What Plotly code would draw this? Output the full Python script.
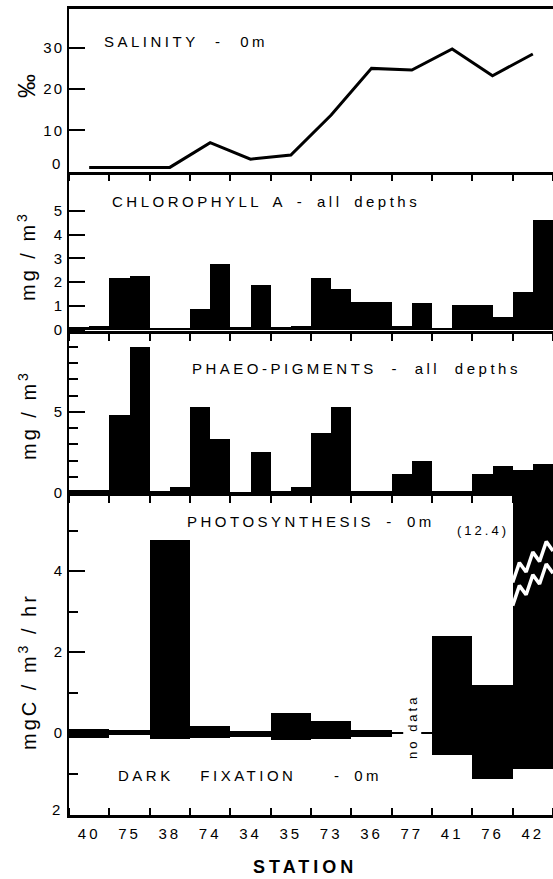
import numpy as np
import plotly.graph_objects as go

# ---------------- data ----------------
stations = ["40", "75", "38", "74", "34", "35", "73", "36", "77", "41", "76", "42"]
salinity = [1.0, 1.0, 1.0, 7.0, 3.0, 4.0, 13.7, 25.0, 24.6, 29.7, 23.2, 28.5]
# each station shows two adjacent columns (left half / right half of its slot)
chl_left = [0.15, 2.2, 0.1, 0.9, 0.15, 0.15, 2.2, 1.2, 0.2, 0.1, 1.05, 1.6]
chl_right = [0.2, 2.3, 0.1, 2.8, 1.9, 0.2, 1.75, 1.2, 1.15, 1.05, 0.55, 4.65]
phaeo_left = [0.2, 4.8, 0.15, 5.3, 0.05, 0.1, 3.7, 0.1, 1.2, 0.15, 1.2, 1.4]
phaeo_right = [0.2, 9.0, 0.4, 3.3, 2.5, 0.4, 5.3, 0.1, 1.95, 0.15, 1.65, 1.8]
photosynthesis = [0.1, 0.07, 4.77, 0.17, 0.05, 0.49, 0.3, 0.07, None, 2.4, 1.18, 12.4]
dark_fixation = [0.12, 0.03, 0.15, 0.13, 0.10, 0.17, 0.15, 0.10, None, 0.54, 1.14, 0.89]

FONT = "Liberation Sans, Arial, Helvetica, sans-serif"


def sp(text, ls=3.5, ws=None):
    style = f"letter-spacing:{ls}px"
    if ws is not None:
        style += f";word-spacing:{ws}px"
    return f"<span style='{style}'>{text}</span>"


idx = np.arange(len(stations))
half_x = np.concatenate([idx + 0.25, idx + 0.75])
chl = list(chl_left) + list(chl_right)
phaeo = list(phaeo_left) + list(phaeo_right)
dark_neg = [None if v is None else -v for v in dark_fixation]

fig = go.Figure()
fig.add_trace(go.Scatter(x=idx + 0.5, y=salinity, mode="lines",
                         line=dict(color="black", width=3), xaxis="x", yaxis="y",
                         showlegend=False))
fig.add_trace(go.Bar(x=half_x, y=chl, width=0.5, marker=dict(color="black", line=dict(width=0)),
                     xaxis="x2", yaxis="y2", showlegend=False))
fig.add_trace(go.Bar(x=half_x, y=phaeo, width=0.5, marker=dict(color="black", line=dict(width=0)),
                     xaxis="x3", yaxis="y3", showlegend=False))
fig.add_trace(go.Bar(x=idx + 0.5, y=photosynthesis, width=1.0,
                     marker=dict(color="black", line=dict(width=0)),
                     xaxis="x4", yaxis="y4", showlegend=False))
fig.add_trace(go.Bar(x=idx + 0.5, y=dark_neg, width=1.0,
                     marker=dict(color="black", line=dict(width=0)),
                     xaxis="x4", yaxis="y4", showlegend=False))

# axis-break zigzags on the off-scale bar (station 42)
brk_i = stations.index("42")
zx, zy = [], []
for (ya, yb) in [(3.72, 4.50), (3.15, 3.95)]:
    n = 6
    for k in range(n + 1):
        t = k / n
        zx.append(brk_i + t)
        zy.append(ya + (yb - ya) * t + (0.36 if k % 2 else 0.0))
    zx.append(None)
    zy.append(None)
fig.add_trace(go.Scatter(x=zx, y=zy, mode="lines", line=dict(color="white", width=3.5),
                         xaxis="x4", yaxis="y4", showlegend=False, hoverinfo="skip"))

tick_font = dict(family=FONT, size=15, color="black")
xticktext = [sp(s, 3) for s in stations]


def xaxis(anchor, bottom=False, mirror=False):
    d = dict(anchor=anchor, domain=[0, 1], range=[0, 12], showgrid=False, zeroline=False,
             showline=True, linecolor="black", linewidth=2.5, mirror=mirror,
             tickmode="array", tickvals=list(idx + 0.5), ticktext=xticktext, ticks="",
             showticklabels=bottom, tickfont=tick_font,
             minor=dict(tickmode="linear", tick0=0, dtick=1,
                        ticks="inside" if bottom else "outside",
                        ticklen=7, tickwidth=2, tickcolor="black", showgrid=False))
    if bottom:
        d["ticklabelstandoff"] = 3
    return d


def yaxis(domain, rng, tickvals, ticktext, anchor, minor_vals=None, **kw):
    d = dict(domain=domain, range=rng, anchor=anchor, showgrid=False,
             zeroline=False, showline=True, linecolor="black", linewidth=2,
             tickmode="array", tickvals=tickvals, ticktext=[sp(t, 2) for t in ticktext],
             ticks="inside", ticklen=16, tickwidth=2, tickcolor="black", tickfont=tick_font)
    if minor_vals:
        d["minor"] = dict(tickmode="array", tickvals=minor_vals, ticks="inside",
                          ticklen=9, tickwidth=2, tickcolor="black", showgrid=False)
    d.update(kw)
    return d


H = 879
TOP, BOT = 9, 815


def frac(px):
    return (BOT - px) / (BOT - TOP)


b1, b2, b3 = 171.5, 331, 493

fig.update_layout(
    width=553, height=879,
    margin=dict(l=69, r=0, t=TOP, b=H - BOT),
    paper_bgcolor="white", plot_bgcolor="white",
    barmode="relative", bargap=0,
    font=dict(family=FONT, color="black"),
    showlegend=False,
    xaxis=xaxis("y", mirror=True),
    xaxis2=xaxis("y2"),
    xaxis3=xaxis("y3"),
    xaxis4=xaxis("y4", bottom=True),
    yaxis=yaxis([frac(b1), 1], [0, 39.4], [10, 20, 30], ["10", "20", "30"], "x"),
    yaxis2=yaxis([frac(b2), frac(b1)], [-0.05, 6.65], [0, 1, 2, 3, 4, 5],
                 ["0", "1", "2", "3", "4", "5"], "x2"),
    yaxis3=yaxis([frac(b3), frac(b2)], [0, 9.97], [0, 5], ["0", "5"], "x3",
                 minor_vals=[1, 2, 3, 4, 6, 7, 8, 9]),
    yaxis4=yaxis([0, frac(b3)], [-2.02, 5.93], [0, 2, 4], ["0", "2", "4"], "x4",
                 minor_vals=[-1, 1, 3, 5],
                 zeroline=True, zerolinecolor="black", zerolinewidth=1.5),
)

ann = []
label_font = dict(family=FONT, size=15, color="black")
# panel labels
panel_labels = [
    ("SALINITY - 0m", 102, 41, 3.5, 9),
    ("CHLOROPHYLL A - all depths", 110, 201, 3.5, 4),
    ("PHAEO-PIGMENTS - all depths", 190, 368, 3.5, 7),
    ("PHOTOSYNTHESIS - 0m", 185, 521, 3.5, 4.5),
]
for text, xl, yc, ls, ws in panel_labels:
    ann.append(dict(text=sp(text, ls, ws), xref="paper", yref="paper",
                    x=(xl - 69) / 484, y=frac(yc), xanchor="left", yanchor="middle",
                    showarrow=False, font=label_font))
ann.append(dict(text=sp("DARK FIXATION", 3.5, 19) + sp(" -", 3.5, 30) + sp(" 0m", 3.5, 4),
                xref="paper", yref="paper", x=(116 - 69) / 484, y=frac(775),
                xanchor="left", yanchor="middle", showarrow=False, font=label_font))

# y-axis titles
ytitle_font = dict(family=FONT, size=20, color="black")
for text, yc, ls, size in [("‰", 86, 0, 24), ("mg / m<sup>3</sup>", 256, 3, 20),
                           ("mg / m<sup>3</sup>", 415, 3, 20),
                           ("mgC / m<sup>3</sup> / hr", 672, 3, 20)]:
    ann.append(dict(text=sp(text, ls), xref="paper", yref="paper", x=0, xshift=-42,
                    y=frac(yc), xanchor="center", yanchor="middle", textangle=-90,
                    showarrow=False, font=dict(family=FONT, size=size, color="black")))

# lifted zero / lower labels
ann.append(dict(text=sp("0", 2), xref="paper", yref="y", x=0, xshift=-5, y=0, yshift=8.5,
                xanchor="right", yanchor="middle", showarrow=False, font=tick_font))
ann.append(dict(text=sp("2", 2), xref="paper", yref="y4", x=0, xshift=-5, y=-2.02, yshift=6,
                xanchor="right", yanchor="middle", showarrow=False, font=tick_font))

# off-scale value and no-data note
ann.append(dict(text=sp("(12.4)", 3), xref="x4", yref="y4", x=brk_i, xshift=-2, y=5.0,
                xanchor="right", yanchor="middle", showarrow=False,
                font=dict(family=FONT, size=13, color="black")))
ann.append(dict(text=sp("no data", 3), xref="x4", yref="y4", x=stations.index("77") + 0.5,
                y=0.15, xanchor="center", yanchor="middle", textangle=-90, showarrow=False,
                bgcolor="white", font=dict(family=FONT, size=13, color="black")))

# x-axis title
ann.append(dict(text="<b>" + sp("STATION", 4) + "</b>", xref="paper", yref="paper",
                x=(305 - 69) / 484, y=frac(867), xanchor="center", yanchor="middle",
                showarrow=False, font=dict(family=FONT, size=18, color="black")))

fig.update_layout(annotations=ann)
fig.write_html("out.html")
